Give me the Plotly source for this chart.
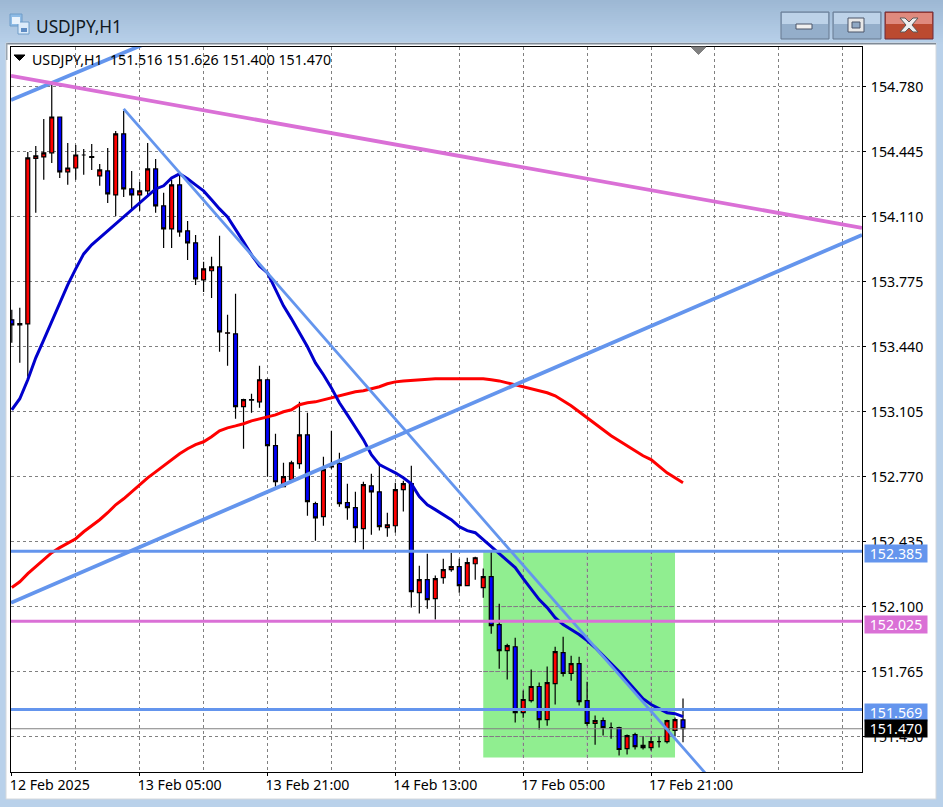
import plotly.graph_objects as go

W, H = 943, 807
ML, MR, MT, MB = 11, 81, 47, 35
FONT = "Noto Sans"

opens = [153.579,153.553,153.558,154.411,154.419,154.440,154.625,154.342,154.362,154.429,154.421,154.321,154.347,154.223,154.538,154.254,154.223,154.244,154.357,154.167,154.048,154.275,154.038,153.976,153.785,153.832,153.852,153.510,153.507,153.131,153.167,153.156,153.270,152.930,152.718,152.754,152.837,152.986,152.631,152.564,152.821,152.837,152.636,152.610,152.502,152.723,152.692,152.507,152.517,152.703,152.734,152.172,152.239,152.141,152.249,152.291,152.306,152.208,152.321,152.198,152.255,152.007,151.873,151.893,151.553,151.615,151.688,151.517,151.703,151.863,151.755,151.806,151.615,151.497,151.512,151.476,151.476,151.368,151.440,151.384,151.373,151.404,151.404,151.461,151.516]
highs = [153.631,153.641,154.445,154.476,154.615,154.790,154.625,154.491,154.481,154.460,154.486,154.383,154.465,154.553,154.656,154.347,154.290,154.491,154.409,154.234,154.301,154.327,154.089,154.017,153.878,153.904,154.012,153.605,153.713,153.172,153.198,153.342,153.275,152.992,152.842,152.852,153.156,153.100,152.641,152.873,153.007,152.893,152.734,152.692,152.744,152.785,152.842,152.584,152.739,152.749,152.827,152.311,152.373,152.260,152.347,152.378,152.347,152.352,152.357,152.296,152.383,152.115,151.909,151.940,151.667,151.775,151.708,151.791,151.893,151.945,151.847,151.842,151.713,151.538,151.528,151.502,151.481,151.440,151.450,151.430,151.430,151.430,151.517,151.528,151.626]
lows = [153.461,153.357,153.285,154.131,154.301,154.388,154.311,154.275,154.301,154.327,154.352,154.270,154.182,154.115,154.213,154.146,154.141,154.213,154.131,153.950,153.950,154.007,153.888,153.759,153.723,153.692,153.414,153.342,153.069,152.914,153.100,153.125,152.770,152.718,152.718,152.744,152.811,152.569,152.440,152.517,152.811,152.615,152.548,152.430,152.394,152.471,152.492,152.460,152.481,152.590,152.095,152.064,152.089,152.033,152.218,152.280,152.172,152.208,152.239,152.146,151.960,151.780,151.724,151.502,151.527,151.605,151.466,151.486,151.595,151.739,151.718,151.590,151.486,151.388,151.435,151.419,151.332,151.337,151.363,151.363,151.358,151.373,151.394,151.430,151.400]
closes = [153.553,153.560,154.414,154.424,154.440,154.625,154.342,154.362,154.429,154.429,154.416,154.352,154.229,154.538,154.254,154.223,154.244,154.357,154.167,154.048,154.275,154.033,153.976,153.790,153.842,153.852,153.517,153.512,153.131,153.167,153.165,153.270,152.930,152.744,152.770,152.842,152.986,152.641,152.558,152.806,152.824,152.631,152.610,152.507,152.729,152.692,152.512,152.522,152.703,152.734,152.177,152.239,152.136,152.244,152.291,152.306,152.208,152.327,152.352,152.255,152.002,151.873,151.899,151.553,151.621,151.688,151.517,151.708,151.868,151.755,151.806,151.610,151.497,151.512,151.476,151.476,151.363,151.435,151.378,151.373,151.404,151.404,151.512,151.517,151.470]

ma_fast = [153.115,153.172,153.270,153.383,153.476,153.569,153.667,153.759,153.842,153.919,153.966,154.002,154.038,154.074,154.110,154.141,154.177,154.213,154.254,154.270,154.311,154.332,154.306,154.275,154.244,154.198,154.151,154.110,154.048,153.981,153.914,153.857,153.821,153.734,153.651,153.584,153.512,153.440,153.357,153.296,153.228,153.151,153.089,153.022,152.961,152.883,152.832,152.811,152.790,152.764,152.734,152.667,152.625,152.600,152.574,152.548,152.512,152.492,152.481,152.445,152.409,152.378,152.342,152.301,152.244,152.193,152.136,152.095,152.043,152.007,151.981,151.956,151.925,151.889,151.847,151.806,151.765,151.718,151.672,151.625,151.595,151.574,151.553,151.548,151.533]
ma_slow = [152.198,152.228,152.270,152.306,152.342,152.378,152.404,152.425,152.450,152.486,152.517,152.548,152.584,152.625,152.656,152.692,152.729,152.764,152.795,152.826,152.858,152.888,152.914,152.935,152.950,152.976,153.007,153.022,153.032,153.043,153.058,153.069,153.079,153.089,153.105,153.115,153.141,153.151,153.156,153.167,153.177,153.187,153.198,153.208,153.213,153.223,153.234,153.249,153.259,153.264,153.267,153.270,153.270,153.275,153.275,153.275,153.275,153.275,153.275,153.275,153.270,153.264,153.254,153.244,153.234,153.223,153.213,153.203,153.187,153.161,153.136,153.105,153.074,153.043,153.012,152.981,152.955,152.930,152.904,152.878,152.858,152.826,152.790,152.764,152.739]

y_ticks = [154.780,154.445,154.110,153.775,153.440,153.105,152.770,152.435,152.100,151.765,151.430]
x_tick_pos = [0,16,32,48,64,80]
x_tick_txt = ["12 Feb 2025","13 Feb 05:00","13 Feb 21:00","14 Feb 13:00","17 Feb 05:00","17 Feb 21:00"]

X_MIN, X_MAX = -0.1, 106.4
Y_MIN, Y_MAX = 151.247, 154.986

level_a, level_b, level_c, last_price = 152.385, 152.025, 151.569, 151.470
BLUE, ORCHID = "#6495ED", "#DA70D6"
bars = list(range(len(opens)))

def hline(v, color, width):
    return go.Scatter(x=[X_MIN, X_MAX], y=[v, v], mode="lines", line=dict(color=color, width=width), hoverinfo="skip")

fig = go.Figure()
fig.add_trace(go.Candlestick(x=bars, open=opens, high=highs, low=lows, close=closes, whiskerwidth=0,
    increasing=dict(fillcolor="#FF0000", line=dict(color="#000000", width=1.2)),
    decreasing=dict(fillcolor="#0000FF", line=dict(color="#000000", width=1.2))))
fig.add_trace(hline(last_price, "#808080", 1))
fig.add_trace(go.Scatter(x=bars, y=ma_slow, mode="lines", line=dict(color="#FF0000", width=3), hoverinfo="skip"))
fig.add_trace(go.Scatter(x=bars, y=ma_fast, mode="lines", line=dict(color="#0000CD", width=3), hoverinfo="skip"))
fig.add_trace(go.Scatter(x=[-0.1, 20], y=[154.713, 155.060], mode="lines", line=dict(color=BLUE, width=3.8), hoverinfo="skip"))
fig.add_trace(go.Scatter(x=[-0.1, 106.4], y=[152.120, 154.017], mode="lines", line=dict(color=BLUE, width=3.8), hoverinfo="skip"))
fig.add_trace(go.Scatter(x=[-0.1, 106.4], y=[154.837, 154.053], mode="lines", line=dict(color=ORCHID, width=3.8), hoverinfo="skip"))
fig.add_trace(go.Scatter(x=[14, 90], y=[154.667, 151.090], mode="lines", line=dict(color=BLUE, width=2.8), hoverinfo="skip"))
fig.add_trace(hline(level_a, BLUE, 3))
fig.add_trace(hline(level_b, ORCHID, 3))
fig.add_trace(hline(level_c, BLUE, 3))

def px_x(x): return (x - ML) / (W - ML - MR)
def px_y(y): return 1 - (y - MT) / (H - MT - MB)

shapes = []
def rect(x0, y0, x1, y1, fill, line=None, lw=1):
    shapes.append(dict(type="rect", xref="paper", yref="paper", layer="below",
        x0=px_x(x0), x1=px_x(x1), y0=px_y(y0), y1=px_y(y1), fillcolor=fill,
        line=dict(color=line or fill, width=lw if line else 0)))
def poly(points, fill, line=None, lw=1):
    d = "M" + " L".join(f"{px_x(a):.5f},{px_y(b):.5f}" for a, b in points) + " Z"
    shapes.append(dict(type="path", xref="paper", yref="paper", layer="above", path=d, fillcolor=fill,
        line=dict(color=line or fill, width=lw)))

# window chrome
def mix(a, b, t):
    return "#%02x%02x%02x" % tuple(round(a[i] + (b[i] - a[i]) * t) for i in range(3))
rect(0, 0, W, H, "#B9D1EA")
top, bot = (157, 184, 212), (185, 209, 234)
for i in range(0, 44, 2):
    rect(0, i, W, i + 2, mix(top, bot, i / 44))
rect(6, 43, 936, 799, "#FFFFFF", "#D4D8DC")
rect(6, 43, 936, 44.5, "#7F8A96")
rect(6, 43, 7.5, 60, "#9AA5B0")
for x0, x1, c1, c2, edge in [(781, 829, "#BDD2E8", "#94AECA", "#66788F"),
                             (833, 881, "#BDD2E8", "#94AECA", "#66788F"),
                             (885, 933, "#DF8A7E", "#BB4A30", "#6A2A3C")]:
    rect(x0, 12, x1, 39, c2, edge, 1)
    rect(x0 + 1, 13, x1 - 1, 24, c1)
rect(796, 24, 812, 29, "#F0F0F0", "#4A5568", 1)
rect(848, 18, 864, 32, "#E8E8E8", "#4A5568", 1)
rect(852, 22, 860, 28, "#8FA8C4", "#4A5568", 1)
poly([(900,18),(905,18),(909,22),(913,18),(918,18),(912,25),(918,32),(913,32),(909,28),(905,32),(900,32),(906,25)],
     "#EEEEEE", "#5A5A5A", 1)
rect(10, 14, 22, 26, "#8FBCE6", "#6E9CC8", 1)
rect(18, 22, 29, 34, "#DCEBFA", "#6E9CC8", 1)
rect(12, 17, 20, 24, "#EAF3FC")
rect(21, 28, 27, 32, "#5E8CC4")
# markers
poly([(14,55),(25,55),(19.5,60.5)], "#000000")
poly([(691,47),(706,47),(698.5,54.5)], "#808080")
# green box and the grid seen through it
shapes.append(dict(type="rect", xref="x", yref="y", layer="below", x0=59, x1=83, y0=151.322, y1=level_a,
    fillcolor="#90EE90", line=dict(width=0)))
for v in [64, 72, 80]:
    shapes.append(dict(type="line", xref="x", yref="y", layer="below", x0=v, x1=v, y0=151.322, y1=level_a,
        line=dict(color="#C080C8", width=1, dash="3px,3px")))
for v in [152.100, 151.765, 151.430]:
    shapes.append(dict(type="line", xref="x", yref="y", layer="below", x0=59, x1=83, y0=v, y1=v,
        line=dict(color="#8A6E90", width=1, dash="3px,3px")))

anns = [
    dict(text="USDJPY,H1", xref="paper", yref="paper", x=px_x(34), y=px_y(27), xanchor="left", yanchor="middle",
         showarrow=False, font=dict(family=FONT, size=17.3, color="#101820")),
    dict(text="USDJPY,H1  151.516 151.626 151.400 151.470", xref="paper", yref="paper", x=px_x(30), y=px_y(59),
         xanchor="left", yanchor="middle", showarrow=False, font=dict(family=FONT, size=14.2, color="#000000")),
]
for v, c, shift in [(level_a, BLUE, -2), (level_b, ORCHID, -3), (level_c, BLUE, -3), (last_price, "#000000", 0)]:
    anns.append(dict(text=f"{v:.3f}", xref="paper", yref="y", x=1, y=v, xanchor="left", yanchor="middle", xshift=2,
        yshift=shift, width=62, height=17, bgcolor=c, borderpad=0, showarrow=False, align="center",
        font=dict(family=FONT, size=14.2, color="#FFFFFF")))

fig.update_layout(width=W, height=H, autosize=False, margin=dict(l=ML, r=MR, t=MT, b=MB, pad=0),
    paper_bgcolor="#FFFFFF", plot_bgcolor="#FFFFFF", showlegend=False, boxgap=0.3, shapes=shapes, annotations=anns,
    font=dict(family=FONT, size=14.2, color="#000000"), hovermode=False,
    xaxis=dict(type="linear", range=[X_MIN, X_MAX], rangeslider=dict(visible=False), tickmode="array",
        tickvals=x_tick_pos, ticktext=x_tick_txt, ticks="outside", ticklen=3, tickcolor="#000000", showgrid=False,
        ticklabelposition="outside right", ticklabelshift=-3, showline=True, linecolor="#000000", linewidth=1, mirror=True, zeroline=False,
        minor=dict(tick0=0, dtick=8, showgrid=True, gridcolor="#808080", griddash="3px,3px", gridwidth=1, ticks="")),
    yaxis=dict(range=[Y_MIN, Y_MAX], side="right", tickmode="array", tickvals=y_ticks,
        ticktext=[f"{v:.3f}" for v in y_ticks], ticks="outside", ticklen=3, tickcolor="#000000", showgrid=True,
        gridcolor="#808080", griddash="3px,3px", gridwidth=1, showline=True, linecolor="#000000", linewidth=1,
        mirror=True, zeroline=False, ticklabelstandoff=2))

fig.write_html("out.html", config=dict(displayModeBar=False),
    post_script="document.body.style.margin='0';document.body.style.overflow='hidden';")
